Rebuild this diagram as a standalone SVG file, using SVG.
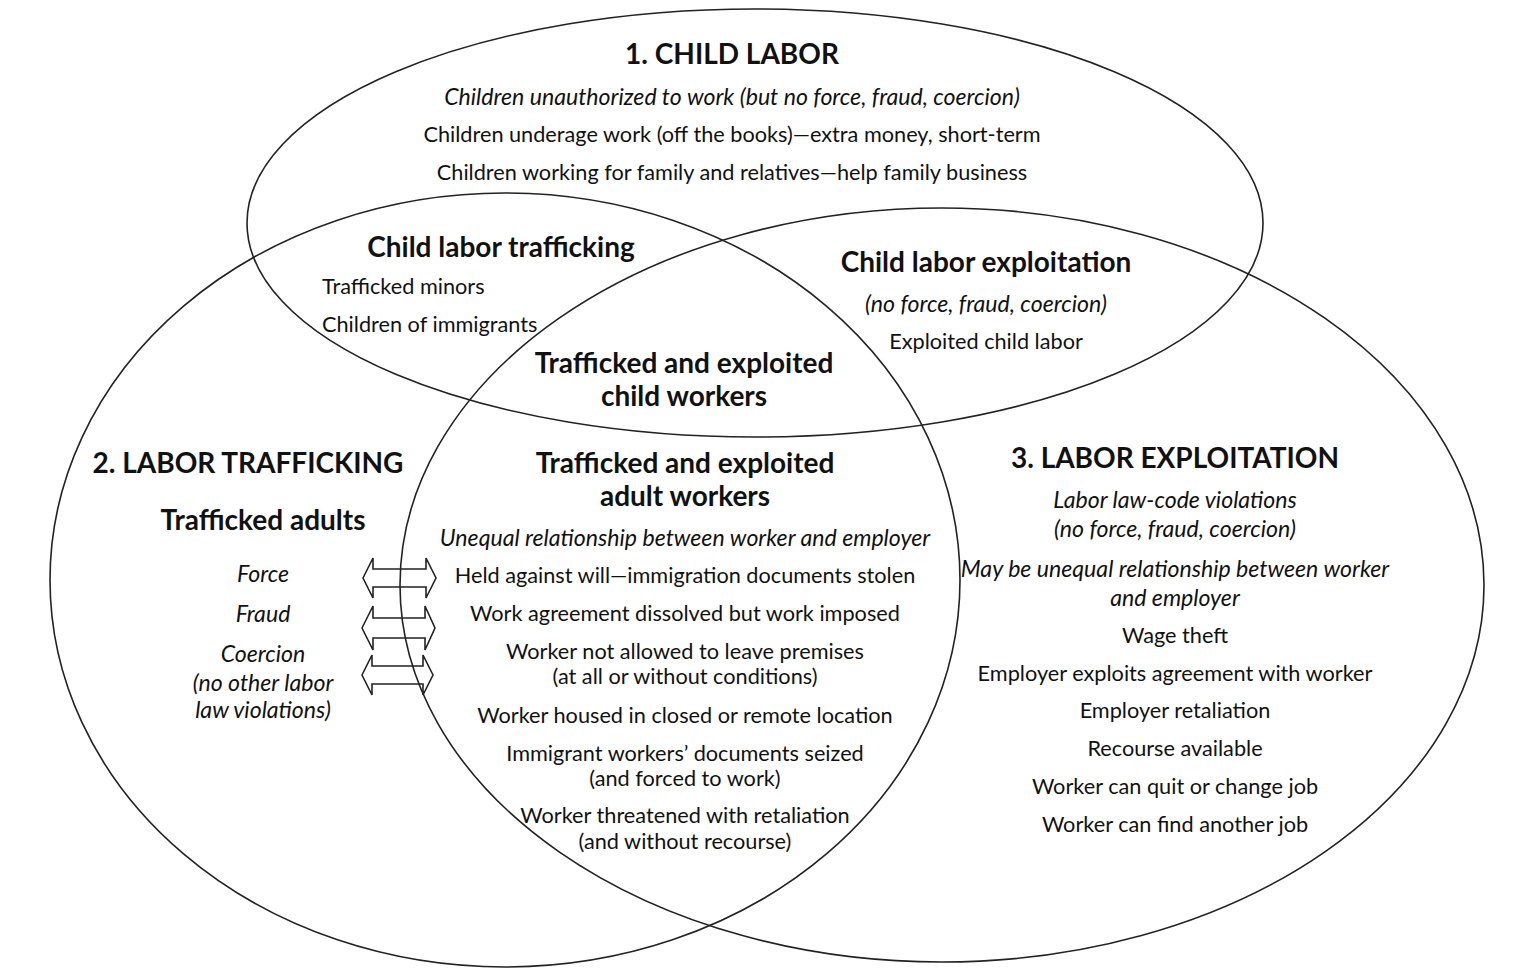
<svg xmlns="http://www.w3.org/2000/svg" width="1536" height="975" viewBox="0 0 1536 975">
<style>
.ring{fill:none;stroke:#222;stroke-width:1.6}
.arr{fill:none;stroke:#222;stroke-width:1.6;stroke-linejoin:miter}
text{font-family:Lato,"Open Sans","Liberation Sans",sans-serif;fill:#111;text-anchor:middle}
.h{font-size:28px;font-weight:bold}
.b{font-size:21.7px}
.i{font-size:23.1px;font-style:italic}
.l{text-anchor:start}
</style>
<rect width="1536" height="975" fill="#fff"/>
<g id="sets">
<ellipse id="child-labor" class="ring" cx="755" cy="223" rx="508" ry="214"/>
<ellipse id="labor-trafficking" class="ring" cx="505" cy="580" rx="455" ry="387"/>
<ellipse id="labor-exploitation" class="ring" cx="942" cy="585" rx="542" ry="377"/>
</g>
<g id="connectors">
<path class="arr" d="M363,578 L373,558 L373,569 L426,569 L426,558 L436,578 L426,598 L426,587 L373,587 L373,598 Z"/>
<path class="arr" d="M362,628 L373,606 L373,618 L425,618 L425,606 L435,628 L425,650 L425,638 L373,638 L373,650 Z"/>
<path class="arr" d="M362,675 L372,655 L372,666 L423,666 L423,655 L433,675 L423,695 L423,684 L372,684 L372,695 Z"/>
</g>
<g id="node-child-labor">
<text class="h" x="732" y="64">1. CHILD LABOR</text>
<text class="i" x="732" y="105">Children unauthorized to work (but no force, fraud, coercion)</text>
<text class="b" x="732" y="142">Children underage work (off the books)—extra money, short-term</text>
<text class="b" x="732" y="180">Children working for family and relatives—help family business</text>
</g>
<g id="node-child-labor-trafficking">
<text class="h" x="501" y="257">Child labor trafficking</text>
<text class="b l" x="322" y="294">Trafficked minors</text>
<text class="b l" x="322" y="332">Children of immigrants</text>
</g>
<g id="node-child-labor-exploitation">
<text class="h" x="986" y="272">Child labor exploitation</text>
<text class="i" x="986" y="312">(no force, fraud, coercion)</text>
<text class="b" x="986" y="349">Exploited child labor</text>
</g>
<g id="node-child-workers">
<text class="h" x="684" y="373">Trafficked and exploited</text>
<text class="h" x="684" y="406">child workers</text>
</g>
<g id="node-adult-workers">
<text class="h" x="685" y="473">Trafficked and exploited</text>
<text class="h" x="685" y="506">adult workers</text>
<text class="i" x="685" y="546">Unequal relationship between worker and employer</text>
<text class="b" x="685" y="583">Held against will—immigration documents stolen</text>
<text class="b" x="685" y="621">Work agreement dissolved but work imposed</text>
<text class="b" x="685" y="659">Worker not allowed to leave premises</text>
<text class="b" x="685" y="684">(at all or without conditions)</text>
<text class="b" x="685" y="723">Worker housed in closed or remote location</text>
<text class="b" x="685" y="761">Immigrant workers’ documents seized</text>
<text class="b" x="685" y="786">(and forced to work)</text>
<text class="b" x="685" y="823">Worker threatened with retaliation</text>
<text class="b" x="685" y="849">(and without recourse)</text>
</g>
<g id="node-labor-trafficking">
<text class="h" x="248" y="473">2. LABOR TRAFFICKING</text>
<text class="h" x="263" y="530">Trafficked adults</text>
<text class="i" x="263" y="582">Force</text>
<text class="i" x="263" y="622">Fraud</text>
<text class="i" x="263" y="662">Coercion</text>
<text class="i" x="263" y="691">(no other labor</text>
<text class="i" x="263" y="718">law violations)</text>
</g>
<g id="node-labor-exploitation">
<text class="h" x="1175" y="468">3. LABOR EXPLOITATION</text>
<text class="i" x="1175" y="508">Labor law-code violations</text>
<text class="i" x="1175" y="537">(no force, fraud, coercion)</text>
<text class="i" x="1175" y="577">May be unequal relationship between worker</text>
<text class="i" x="1175" y="606">and employer</text>
<text class="b" x="1175" y="643">Wage theft</text>
<text class="b" x="1175" y="681">Employer exploits agreement with worker</text>
<text class="b" x="1175" y="718">Employer retaliation</text>
<text class="b" x="1175" y="756">Recourse available</text>
<text class="b" x="1175" y="794">Worker can quit or change job</text>
<text class="b" x="1175" y="832">Worker can find another job</text>
</g>
</svg>
